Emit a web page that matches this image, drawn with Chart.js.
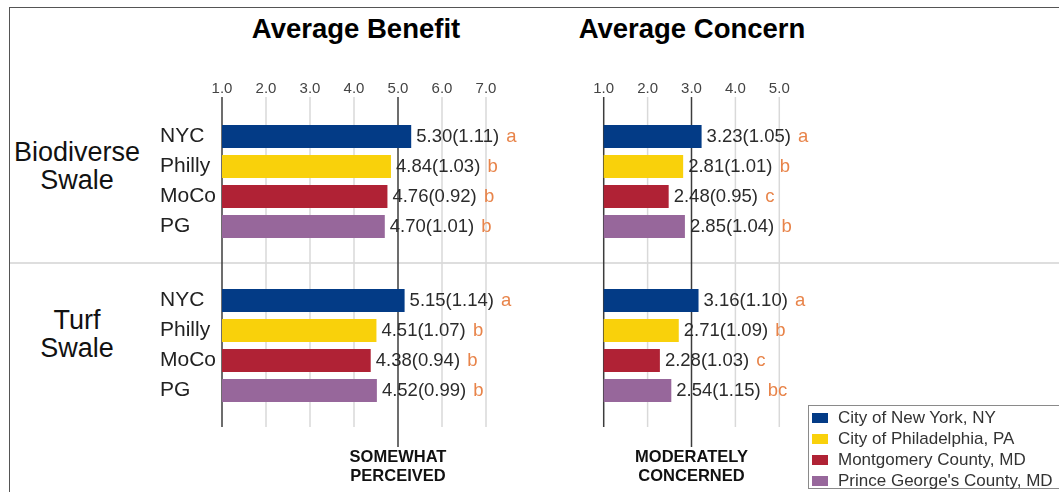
<!DOCTYPE html>
<html>
<head>
<meta charset="utf-8">
<title>Swale perception by jurisdiction</title>
<script src="https://cdn.jsdelivr.net/npm/chart.js@4.4.0/dist/chart.umd.min.js"></script>
<style>
  html, body { margin: 0; padding: 0; background: #fff; }
  #fig { position: relative; width: 1059px; height: 492px; overflow: hidden;
         font-family: "Liberation Sans", Arial, sans-serif; color: #111; }
  .frame { position: absolute; left: 9px; top: 7px; width: 1100px; height: 520px;
           border-top: 1px solid #555; border-left: 1px solid #555; }
  .sep { position: absolute; left: 10px; top: 262px; width: 1100px; height: 2px; background: #dedede; }
  .title { position: absolute; font-weight: bold; font-size: 27.5px; line-height: 28px;
           transform: translate(-50%, -50%); white-space: nowrap; color: #000; }
  .group { position: absolute; font-size: 27px; line-height: 28px; text-align: center;
           transform: translate(-50%, -50%); white-space: nowrap; color: #111; }
  canvas { position: absolute; }
  .legend { position: absolute; left: 808px; top: 405px; width: 280px; height: 84px;
            border: 1px solid #8a8a8a; background: #fff; padding-top: 1px; box-sizing: border-box; }
  .legend div { display: flex; align-items: center; height: 21px; font-size: 17px; color: #333; white-space: nowrap; }
  .legend span { display: inline-block; width: 16px; height: 10px; margin: 0 10px 0 3px; }
</style>
</head>
<body>
<div id="fig">
  <div class="frame"></div>
  <div class="sep"></div>
  <div class="title" style="left:356px; top:29px">Average Benefit</div>
  <div class="title" style="left:692px; top:29px">Average Concern</div>
  <div class="group" style="left:77px; top:166px">Biodiverse<br>Swale</div>
  <div class="group" style="left:77px; top:334px">Turf<br>Swale</div>
  <canvas id="benefitBio"></canvas>
  <canvas id="benefitTurf"></canvas>
  <canvas id="concernBio"></canvas>
  <canvas id="concernTurf"></canvas>
  <div class="legend" id="legend"></div>
</div>
<script>
const cities = ['NYC', 'Philly', 'MoCo', 'PG'];
const cityNames = ['City of New York, NY', 'City of Philadelphia, PA', 'Montgomery County, MD', "Prince George's County, MD"];
const cityColors = ['#033b86', '#f9d10b', '#b02235', '#97679b'];

// mean score, (sd), and post-hoc group letter per city
const bioBenefit = [5.30, 4.84, 4.76, 4.70];
const bioBenefitSd = [1.11, 1.03, 0.92, 1.01];
const bioBenefitSig = ['a', 'b', 'b', 'b'];

const turfBenefit = [5.15, 4.51, 4.38, 4.52];
const turfBenefitSd = [1.14, 1.07, 0.94, 0.99];
const turfBenefitSig = ['a', 'b', 'b', 'b'];

const bioConcern = [3.23, 2.81, 2.48, 2.85];
const bioConcernSd = [1.05, 1.01, 0.95, 1.04];
const bioConcernSig = ['a', 'b', 'c', 'b'];

const turfConcern = [3.16, 2.71, 2.28, 2.54];
const turfConcernSd = [1.10, 1.09, 1.03, 1.15];
const turfConcernSig = ['a', 'b', 'c', 'bc'];

const benefitRange = [1, 7];
const concernRange = [1, 5];
const benefitMark = 5;
const concernMark = 3;
const benefitNote = ['SOMEWHAT', 'PERCEIVED'];
const concernNote = ['MODERATELY', 'CONCERNED'];

const FONT = '"Liberation Sans", Arial, sans-serif';

// grid lines that run past the plot area, value labels, and the note under the reference line
const swalePlugin = {
  id: 'swale',
  beforeDatasetsDraw(chart, args, o) {
    const {ctx, chartArea: a, scales: {x}} = chart;
    const y0 = a.top - o.above, y1 = a.bottom + o.below;
    ctx.save();
    ctx.lineWidth = 1.5;
    ctx.strokeStyle = '#d9d9d9';
    x.ticks.forEach(t => {
      if (t.value === x.min || t.value === o.mark) return;
      const px = x.getPixelForValue(t.value);
      ctx.beginPath(); ctx.moveTo(px, y0); ctx.lineTo(px, y1); ctx.stroke();
    });
    ctx.strokeStyle = '#3c3c3c';
    [x.min, o.mark].forEach(v => {
      const px = x.getPixelForValue(v);
      const end = v === o.mark ? y1 + o.markBelow : y1;
      ctx.beginPath(); ctx.moveTo(px, y0); ctx.lineTo(px, end); ctx.stroke();
    });
    ctx.restore();
  },
  afterDatasetsDraw(chart, args, o) {
    const {ctx, chartArea: a, scales: {x}} = chart;
    const values = chart.data.datasets[0].data;
    ctx.save();
    ctx.font = '18.5px ' + FONT;
    ctx.textBaseline = 'middle';
    ctx.textAlign = 'left';
    chart.getDatasetMeta(0).data.forEach((bar, i) => {
      const txt = values[i].toFixed(2) + '(' + o.sd[i].toFixed(2) + ')';
      const tx = bar.x + 5;
      ctx.fillStyle = '#2b2b2b';
      ctx.fillText(txt, tx, bar.y);
      ctx.fillStyle = '#e8844a';
      ctx.fillText(o.sig[i], tx + ctx.measureText(txt + ' ').width + 2, bar.y);
    });
    if (o.note) {
      ctx.font = 'bold 16.5px ' + FONT;
      ctx.fillStyle = '#111';
      ctx.textAlign = 'center';
      const px = x.getPixelForValue(o.mark);
      o.note.forEach((line, k) => ctx.fillText(line, px, a.bottom + 51.5 + k * 19));
    }
    ctx.restore();
  }
};

function swaleChart(id, place, spec) {
  const canvas = document.getElementById(id);
  canvas.width = place.w;
  canvas.height = place.h;
  canvas.style.left = place.x + 'px';
  canvas.style.top = place.y + 'px';
  return new Chart(canvas, {
    type: 'bar',
    data: {
      labels: cities,
      datasets: [{
        data: spec.values,
        backgroundColor: cityColors,
        borderWidth: 0,
        barPercentage: 0.77,
        categoryPercentage: 1
      }]
    },
    options: {
      indexAxis: 'y',
      responsive: false,
      animation: false,
      layout: { padding: place.pad },
      plugins: {
        legend: { display: false },
        tooltip: { enabled: false },
        swale: spec.overlay
      },
      scales: {
        x: {
          min: spec.range[0],
          max: spec.range[1],
          position: 'top',
          display: spec.showTicks,
          grid: { display: false },
          border: { display: false },
          ticks: {
            stepSize: 1,
            padding: 15.5,
            color: '#444',
            font: { family: FONT, size: 15 },
            callback: v => v.toFixed(1)
          },
          afterFit: s => { if (s.options.display) s.height = 61.5; }
        },
        y: {
          display: spec.showCities,
          grid: { display: false },
          border: { display: false },
          ticks: {
            crossAlign: 'far',
            padding: 0,
            color: '#222',
            font: { family: FONT, size: 21 }
          },
          afterFit: s => { if (s.options.display) s.width = 62; }
        }
      }
    },
    plugins: [swalePlugin]
  });
}

const topRow = { y: 60, h: 203, top: 0, bottom: 21.5 };
const bottomRow = { y: 263, h: 229, top: 22.5, bottom: 86.5 };
const benefitCol = { x: 150, w: 410, left: 10, right: 74 };
const concernCol = { x: 560, w: 499, left: 43.7, right: 279.7 };

function place(col, row) {
  return {
    x: col.x, y: row.y, w: col.w, h: row.h,
    pad: { left: col.left, right: col.right, top: row.top, bottom: row.bottom }
  };
}

swaleChart('benefitBio', place(benefitCol, topRow), {
  values: bioBenefit, range: benefitRange, showTicks: true, showCities: true,
  overlay: { sd: bioBenefitSd, sig: bioBenefitSig, mark: benefitMark, above: 24.5, below: 21.5, markBelow: 0 }
});
swaleChart('benefitTurf', place(benefitCol, bottomRow), {
  values: turfBenefit, range: benefitRange, showTicks: false, showCities: true,
  overlay: { sd: turfBenefitSd, sig: turfBenefitSig, mark: benefitMark, above: 22.5, below: 21.5, markBelow: 20, note: benefitNote }
});
swaleChart('concernBio', place(concernCol, topRow), {
  values: bioConcern, range: concernRange, showTicks: true, showCities: false,
  overlay: { sd: bioConcernSd, sig: bioConcernSig, mark: concernMark, above: 24.5, below: 21.5, markBelow: 0 }
});
swaleChart('concernTurf', place(concernCol, bottomRow), {
  values: turfConcern, range: concernRange, showTicks: false, showCities: false,
  overlay: { sd: turfConcernSd, sig: turfConcernSig, mark: concernMark, above: 22.5, below: 21.5, markBelow: 20, note: concernNote }
});

// legend
const legend = document.getElementById('legend');
cityNames.forEach((name, i) => {
  const row = document.createElement('div');
  const swatch = document.createElement('span');
  swatch.style.background = cityColors[i];
  row.appendChild(swatch);
  row.appendChild(document.createTextNode(name));
  legend.appendChild(row);
});
</script>
</body>
</html>
